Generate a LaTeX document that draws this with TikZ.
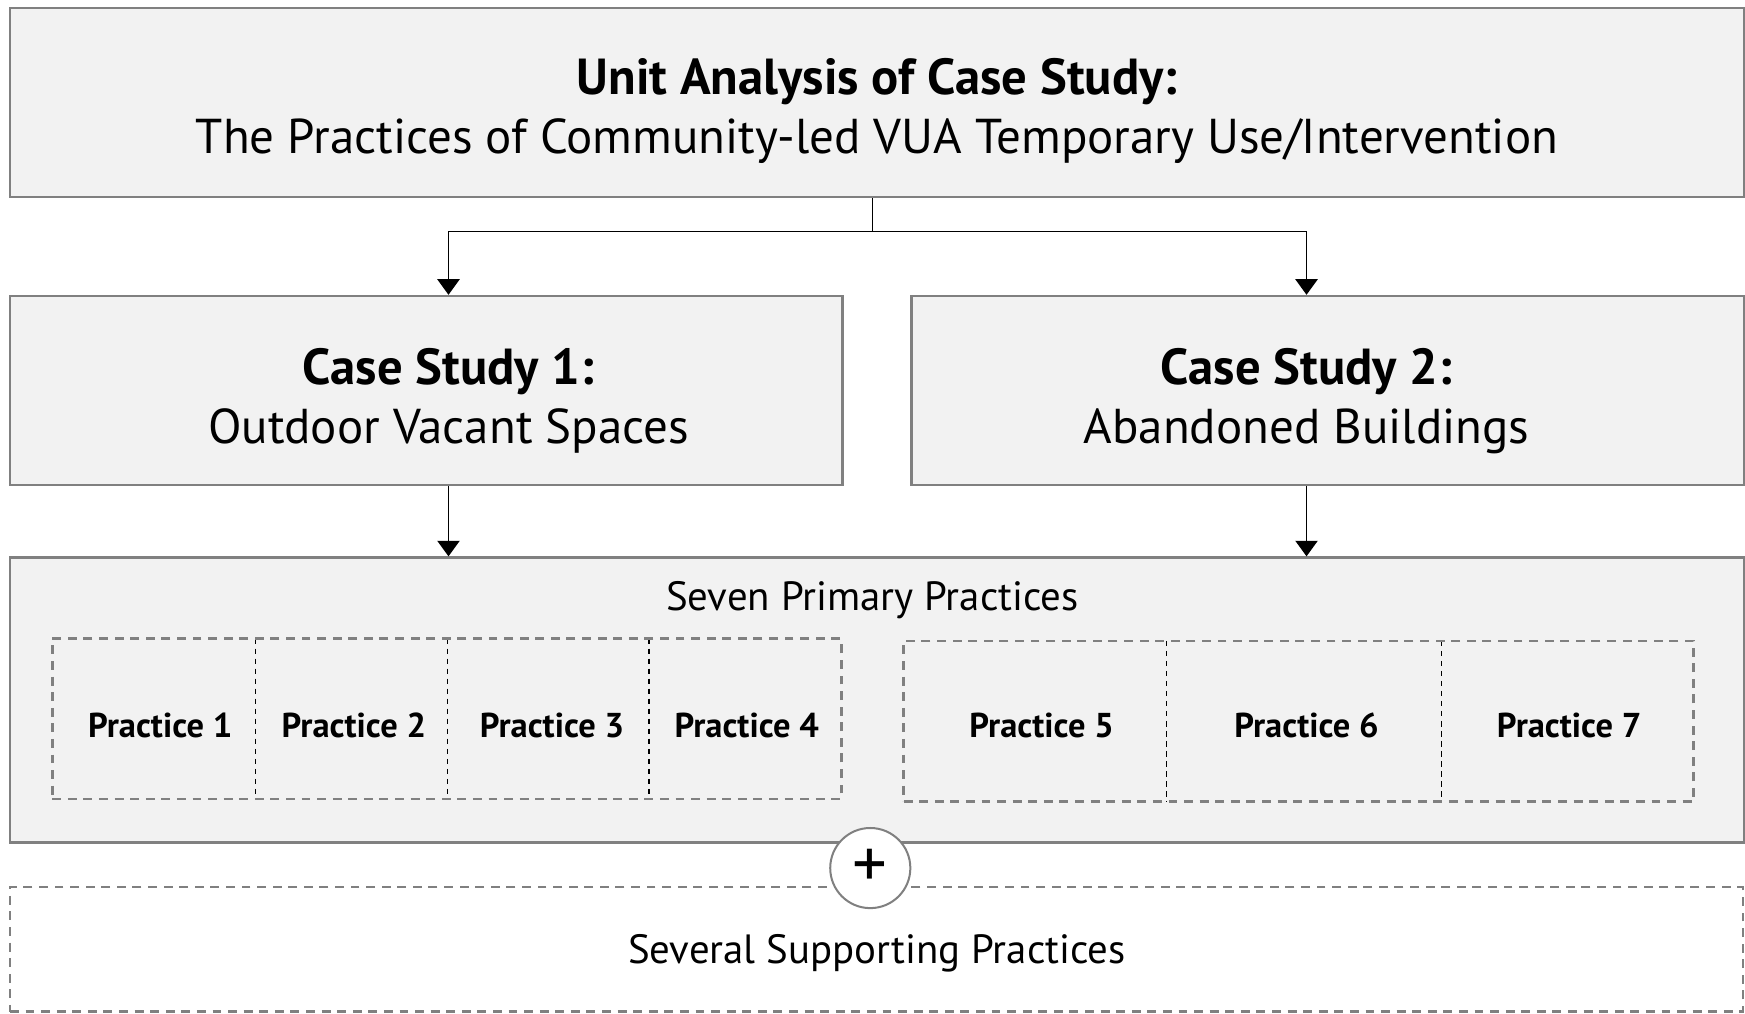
\documentclass[tikz,border=0pt]{standalone}
\usepackage{fontspec}
\setmainfont{PT Sans}
\usetikzlibrary{arrows.meta}
\definecolor{boxfill}{HTML}{F2F2F2}
\definecolor{boxline}{HTML}{808080}
\newcommand\bigtxt{\fontsize{44}{53}\selectfont}
\newcommand\bigbold{\fontsize{45.5}{53}\selectfont\bfseries}
\newcommand\midtxt{\fontsize{36.7}{40}\selectfont}
\newcommand\smalltxt{\fontsize{31}{34}\selectfont}
\begin{document}
\begin{tikzpicture}[x=1pt,y=-1pt,
  box/.style={draw=boxline, fill=boxfill, line width=2.2pt, inner sep=0pt, align=center},
  conn/.style={line width=1.3pt, draw=black},
  arr/.style={conn, -{Triangle[length=14pt,width=20pt]}},
  grp/.style={draw=boxline, dash pattern=on 8pt off 6pt, line width=2.4pt, inner sep=0pt},
  divider/.style={draw=black, dash pattern=on 5pt off 4pt, line width=1pt},
  cell/.style={inner sep=0pt, minimum height=144pt},
  plus/.style={circle, draw=boxline, fill=white, line width=1.8pt, minimum size=72pt, inner sep=0pt, font=\fontsize{62}{62}\selectfont},
  txt/.style={inner sep=0pt, align=center}
]
\useasboundingbox (0,0) rectangle (1568,910.3);

% top box
\node[box, minimum width=1558pt, minimum height=170pt] (top) at (788,92) {};
\node[txt, font=\bigtxt] (toptxt) at (788,100) {{\bigbold Unit Analysis of Case Study:}\\The Practices of Community-led VUA Temporary Use/Intervention};

% case study boxes
\node[box, minimum width=748pt, minimum height=170pt] (cs1) at (383,351) {};
\node[box, minimum width=748pt, minimum height=170pt] (cs2) at (1193,351) {};
\node[txt, font=\bigtxt] (cs1txt) at (403,360) {{\bigbold Case Study 1:}\\Outdoor Vacant Spaces};
\node[txt, font=\bigtxt] (cs2txt) at (1174,360) {{\bigbold Case Study 2:}\\Abandoned Buildings};

% connectors top -> case studies
\coordinate (split) at (784,208);
\coordinate (c1) at (403,0);
\coordinate (c2) at (1174,0);
\draw[conn] (split |- top.south) -- (split);
\draw[arr] (split) -| (c1 |- cs1.north);
\draw[arr] (split) -| (c2 |- cs2.north);

% primary box
\node[box, minimum width=1558pt, minimum height=256pt] (prim) at (788,629) {};
\node[txt, font=\midtxt] (primtxt) at (784,539) {Seven Primary Practices};
\draw[arr] (c1 |- cs1.south) -- (c1 |- prim.north);
\draw[arr] (c2 |- cs2.south) -- (c2 |- prim.north);

% left group of practices
\node[cell, minimum width=182pt] (p1) at (138,646) {};
\node[cell, minimum width=173pt] (p2) at (315.5,646) {};
\node[cell, minimum width=181pt] (p3) at (492.5,646) {};
\node[cell, minimum width=173pt] (p4) at (669.5,646) {};
\draw[divider] (p1.north east) -- (p1.south east);
\draw[divider] (p2.north east) -- (p2.south east);
\draw[divider] (p3.north east) -- (p3.south east);
\node[grp, minimum width=709pt, minimum height=144pt] (g1) at (401.5,646) {};
\node[txt, font=\smalltxt\bfseries] (t1) at (144,652) {Practice 1};
\node[txt, font=\smalltxt\bfseries] (t2) at (318,652) {Practice 2};
\node[txt, font=\smalltxt\bfseries] (t3) at (496,652) {Practice 3};
\node[txt, font=\smalltxt\bfseries] (t4) at (671,652) {Practice 4};

% right group of practices
\node[cell, minimum width=236pt] (p5) at (930,648) {};
\node[cell, minimum width=247pt] (p6) at (1171.5,648) {};
\node[cell, minimum width=227pt] (p7) at (1408.5,648) {};
\draw[divider] (p5.north east) -- (p5.south east);
\draw[divider] (p6.north east) -- (p6.south east);
\node[grp, minimum width=710pt, minimum height=144pt] (g2) at (1167,648) {};
\node[txt, font=\smalltxt\bfseries] (t5) at (936,652) {Practice 5};
\node[txt, font=\smalltxt\bfseries] (t6) at (1174,652) {Practice 6};
\node[txt, font=\smalltxt\bfseries] (t7) at (1410,652) {Practice 7};

% supporting box
\node[draw=boxline, fill=white, dash pattern=on 8pt off 6pt, line width=2.2pt, minimum width=1557pt, minimum height=112pt, inner sep=0pt] (supp) at (787.5,853) {};
\node[txt, font=\midtxt] (supptxt) at (788,857) {Several Supporting Practices};

% plus circle
\node[plus] (plusc) at (782,780) {+};
\end{tikzpicture}
\end{document}
